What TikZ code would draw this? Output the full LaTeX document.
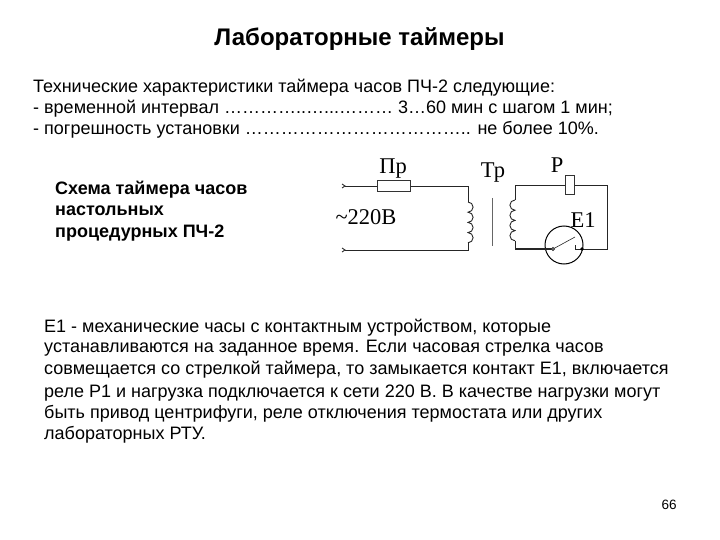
\documentclass[tikz,border=0pt]{standalone}
\usepackage{fontspec}
\setmainfont{Liberation Sans}
\newfontfamily\schemefont{Liberation Serif}
\usepackage{xcolor}

\tikzset{
  txt/.style={anchor=base west, inner sep=0pt, font=\fontsize{18}{22}\selectfont},
  boldtxt/.style={txt, font=\fontsize{18}{22}\selectfont\bfseries},
  lbl/.style={anchor=base, inner sep=0pt, font=\fontsize{22.5}{26}\selectfont\schemefont},
  wire/.style={line width=0.9pt, black!85},
  part/.style={draw, line width=1pt, black!80, inner sep=0pt, minimum width=#1},
}

\begin{document}
\begin{tikzpicture}[x=1pt, y=-1pt]
\useasboundingbox (0,0) rectangle (720,540);

\node[boldtxt, anchor=base, font=\fontsize{24}{28}\selectfont\bfseries] (title) at (359.5,46) {Лабораторные таймеры};

\node[txt] (spec1) at (33,93) {Технические характеристики таймера часов ПЧ-2 следующие:};
\node[txt] (spec2) at (33,114) {- временной интервал …………..…...……… 3…60 мин с шагом 1 мин;};
\node[txt] (spec3) at (33,135) {- погрешность установки ……………………………….. не более 10\%.};

\node[boldtxt] (cap1) at (55,195) {Схема таймера часов};
\node[boldtxt] (cap2) at (55,215) {настольных};
\node[boldtxt] (cap3) at (55,237) {процедурных ПЧ-2};

\node[txt] (note1) at (44,332) {Е1 - механические часы с контактным устройством, которые};
\node[txt] (note2) at (44,352) {устанавливаются на заданное время. Если часовая стрелка часов};
\node[txt] (note3) at (44,374) {совмещается со стрелкой таймера, то замыкается контакт Е1, включается};
\node[txt] (note4) at (44,397) {реле Р1 и нагрузка подключается к сети 220 В. В качестве нагрузки могут};
\node[txt] (note5) at (44,418) {быть привод центрифуги, реле отключения термостата или других};
\node[txt] (note6) at (44,439) {лабораторных РТУ.};

\node[anchor=base, inner sep=0pt, font=\fontsize{13.5}{16}\selectfont] (page) at (669,509) {66};

% primary side
\coordinate (inA) at (345,186);
\coordinate (inB) at (345,250);
\coordinate (primTop) at (468,186);
\coordinate (primBot) at (468,250);
\coordinate (coilA) at (468,202);
\coordinate (coilB) at (468,243);
\node[part=33pt, minimum height=11pt, rectangle] (fuse) at (393.5,186) {};
\draw[wire] (inA) -- (fuse);
\draw[wire] (fuse) -- (primTop) -- (coilA);
\draw[wire] (coilB) -- (primBot) -- (inB);
\draw[wire] (coilA) \foreach \k in {1,...,4} {arc[start angle=90, end angle=-90, radius=5.1pt]};
\draw[wire] (inA) ++(-3,-2) -- (inA) -- ++(-3,2);
\draw[wire] (inB) ++(-3,-2) -- (inB) -- ++(-3,2);

% core
\coordinate (coreTop) at (492,198);
\coordinate (coreBot) at (492,246);
\draw[wire, black!60] (coreTop) -- (coreBot);

% secondary side
\coordinate (secTop) at (515,185);
\coordinate (secBot) at (515,249);
\coordinate (loopTR) at (607,185);
\coordinate (loopBR) at (607,249);
\coordinate (coilC) at (515,200);
\coordinate (coilD) at (515,241);
\node[part=9pt, minimum height=19pt, rectangle, fill=white] (relay) at (570,185) {};
\node[draw, circle, line width=1pt, minimum size=38pt, inner sep=0pt] (clock) at (564,245) {};
\coordinate (contL) at (553,249);
\coordinate (contR) at (582,249);
\coordinate (handTip) at (575,237);
\draw[wire] (coilC) -- (secTop) -- (relay);
\draw[wire] (relay) -- (loopTR) -- (loopBR) -- (contR);
\draw[wire, line width=1.2pt] (secBot) -- (contL);
\draw[wire] (coilD) -- (secBot);
\draw[wire] (coilC) \foreach \k in {1,...,4} {arc[start angle=90, end angle=270, radius=5.1pt]};
\draw[wire, line width=0.6pt] (contL) -- (handTip);
\draw[wire] (contR) -- (575,249) -- (575,245);
\fill[black] (contR) circle (1.8pt);
\draw[wire, fill=white] (contL) circle (1.6pt);

\node[lbl] (fuseLbl) at (393,174) {Пр};
\node[lbl] (trLbl) at (493,178) {Тр};
\node[lbl] (relayLbl) at (557,173) {Р};
\node[lbl] (clockLbl) at (583,227) {Е1};
\node[lbl] (mainsLbl) at (366,225) {\char`\~220В};
\end{tikzpicture}
\end{document}
